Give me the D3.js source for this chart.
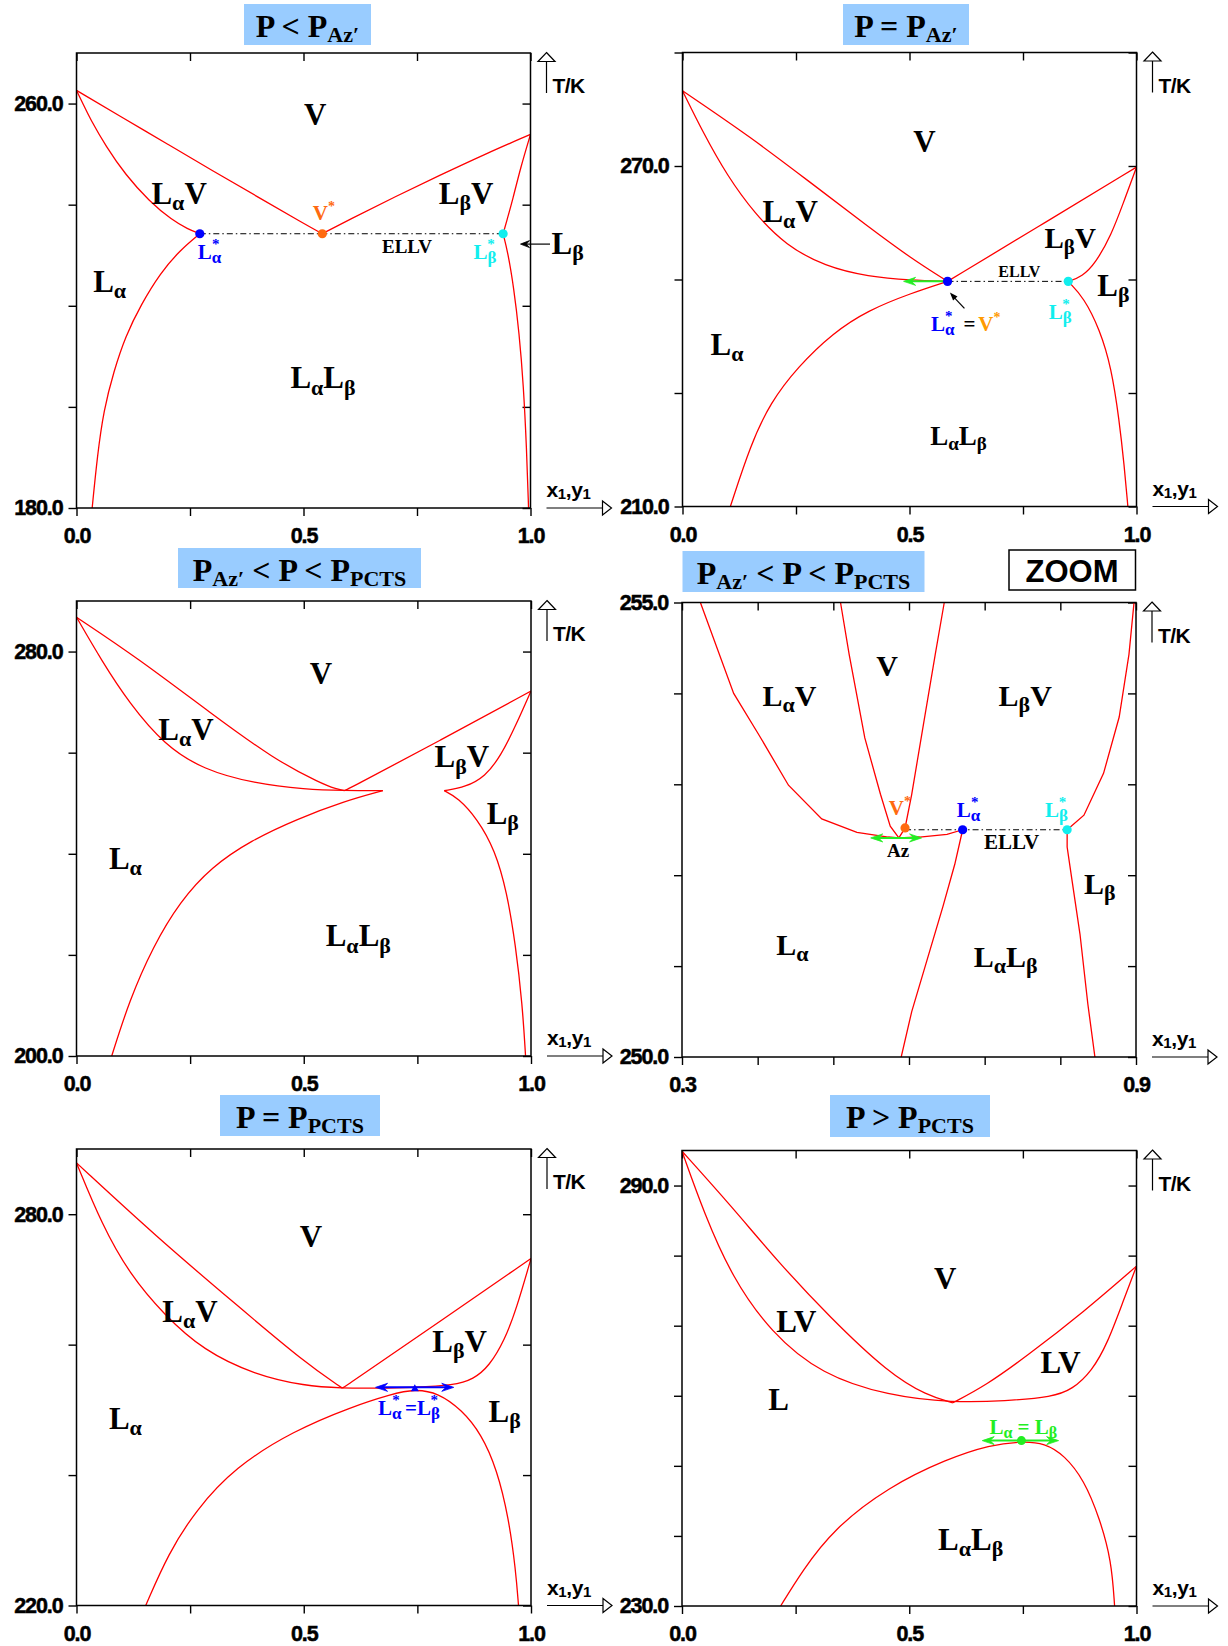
<!DOCTYPE html>
<html><head><meta charset="utf-8">
<script src="https://cdn.jsdelivr.net/npm/d3@7"></script>
<style>body{margin:0;background:#fff}svg{display:block}text{white-space:pre}</style>
</head><body>
<svg id="c" width="1228" height="1646"></svg>
<script>
// ---------------- DATA ----------------
const titles = ["P < P_{Az′}", "P = P_{Az′}", "P_{Az′} < P < P_{PCTS}", "P_{Az′} < P < P_{PCTS}", "P = P_{PCTS}", "P > P_{PCTS}"];
const xTicksMain = [0, 0.25, 0.5, 0.75, 1];
const xLabelsMain = [0, 0.5, 1];
const xTicksZoom = [0.3, 0.4, 0.5, 0.6, 0.7, 0.8, 0.9];
const xLabelsZoom = [0.3, 0.9];
const p1TRange = [180, 270], p1TTicks = [180, 200, 220, 240, 260], p1TLabels = [180, 260];
const p2TRange = [210, 290], p2TTicks = [210, 230, 250, 270, 290], p2TLabels = [210, 270];
const p3TRange = [200, 290], p3TTicks = [200, 220, 240, 260, 280], p3TLabels = [200, 280];
const p4TRange = [250, 255], p4TTicks = [250, 251, 252, 253, 254, 255], p4TLabels = [250, 255];
const p5TRange = [220, 290], p5TTicks = [220, 240, 260, 280], p5TLabels = [220, 280];
const p6TRange = [230, 295], p6TTicks = [230, 240, 250, 260, 270, 280, 290], p6TLabels = [230, 290];

// Panel 1: P < PAz'
const p1DewL = [[0,262.6],[0.1,257.3],[0.2,252.0],[0.3,246.7],[0.4,241.5],[0.5,236.3],[0.5414,234.25]];
const p1DewR = [[0.5414,234.25],[0.6,237.0],[0.7,241.5],[0.8,245.8],[0.9,250.0],[1,253.9]];
const p1BubL = [[0,262.6],[0.015,259.8],[0.030,257.0],[0.065,251.5],[0.108,245.9],[0.160,240.7],[0.211,236.9],[0.245,235.2],[0.2716,234.25]];
const p1BubR = [[1,253.9],[0.978,247.3],[0.961,241.05],[0.948,236.9],[0.9397,234.25]];
const p1LleL = [[0.2716,234.25],[0.228,231.0],[0.185,226.5],[0.142,220.2],[0.108,214.0],[0.082,207.0],[0.060,199.4],[0.046,190.4],[0.0345,180]];
const p1LleR = [[0.9397,234.25],[0.95,230.6],[0.963,223.7],[0.975,214.7],[0.9845,204.3],[0.9914,191.8],[0.9957,180]];
const p1Stars = [[0.2716,234.25],[0.5414,234.25],[0.9397,234.25]]; // Lα*, V*, Lβ*

// Panel 2: P = PAz'
const p2DewL = [[0,283.25],[0.15,275.1],[0.28,267.2],[0.409,259.3],[0.504,253.7],[0.5838,249.67]];
const p2BubL = [[0,283.25],[0.0466,275.7],[0.0984,268.3],[0.159,261.6],[0.228,256.0],[0.314,252.3],[0.409,250.5],[0.504,249.85],[0.5838,249.67]];
const p2DewR = [[0.5838,249.67],[0.8,260.1],[1,269.8]];
const p2BubR = [[1,269.8],[0.9706,263.4],[0.9447,257.9],[0.910,252.9],[0.880,250.5],[0.8497,249.67]];
const p2LleL = [[0.5838,249.67],[0.504,247.6],[0.409,244.6],[0.3316,240.6],[0.254,234.6],[0.1934,228.3],[0.150,220.9],[0.1054,210]];
const p2LleR = [[0.8497,249.67],[0.884,246.8],[0.919,241.2],[0.9447,234.45],[0.962,225.2],[0.973,217.2],[0.981,210]];
const p2Stars = [[0.5838,249.67],[0.8497,249.67]]; // Lα*=V*, Lβ*
const p2AzArrow = [[0.5838,249.67],[0.487,249.67]];

// Panel 3: PAz' < P < PPCTS
const p3DewL = [[0,286.8],[0.1334,278.8],[0.297,267.7],[0.4346,258.7],[0.538,253.9],[0.572,252.8],[0.5895,252.48]];
const p3DewR = [[0.5895,252.48],[0.6,252.9],[0.8,262.4],[1,272.2]];
const p3BubL = [[0,286.8],[0.056,278.1],[0.116,269.8],[0.1936,261.5],[0.2797,256.6],[0.3916,253.9],[0.503,252.75],[0.5895,252.5],[0.674,252.48]];
const p3LleL = [[0.674,252.48],[0.5895,250.4],[0.486,246.9],[0.383,242.6],[0.297,237.4],[0.228,230.6],[0.168,221.6],[0.116,210.9],[0.0775,200]];
const p3BubR = [[1,272.2],[0.968,265.65],[0.934,259.4],[0.899,255.25],[0.856,253.2],[0.809,252.48]];
const p3LleR = [[0.809,252.48],[0.839,251.1],[0.882,246.9],[0.921,240.7],[0.947,232.4],[0.966,222.0],[0.981,210.2],[0.988,200]];

// Panel 4: zoom
const p4BubL = [[0.3243,255],[0.3683,254.0],[0.4019,253.54],[0.4407,252.99],[0.4847,252.62],[0.5312,252.47],[0.5726,252.42],[0.5866,252.41],[0.614,252.42],[0.6502,252.45],[0.6709,252.5]];
const p4DewL = [[0.5095,255],[0.5209,254.43],[0.5416,253.51],[0.5623,252.89],[0.5752,252.54],[0.5866,252.41]];
const p4DewR = [[0.5866,252.41],[0.5948,252.52],[0.6036,252.89],[0.6191,253.66],[0.6347,254.43],[0.6466,255]];
const p4LleL = [[0.6709,252.5],[0.6605,252.12],[0.645,251.66],[0.6243,251.08],[0.6036,250.5],[0.5897,250]];
const p4BubR = [[0.8974,255],[0.8907,254.43],[0.8778,253.74],[0.8571,253.12],[0.8312,252.66],[0.809,252.5]];
const p4LleR = [[0.809,252.5],[0.809,252.31],[0.8157,251.93],[0.826,251.35],[0.8364,250.58],[0.8457,250]];
const p4Stars = [[0.5948,252.52],[0.6709,252.5],[0.809,252.5]]; // V*, Lα*, Lβ*
const p4AzArrow = [[0.5494,252.41],[0.6166,252.41]];

// Panel 5: P = PPCTS
const p5DewL = [[0,287.87],[0.1764,276.5],[0.3485,266.3],[0.5034,257.2],[0.585,253.33]];
const p5DewR = [[0.585,253.33],[0.6,254.0],[0.8,263.6],[1,273.2]];
const p5Bub = [[0,287.87],[0.056,278.4],[0.116,270.9],[0.1936,264.5],[0.2797,259.1],[0.3916,255.4],[0.503,253.65],[0.585,253.33],[0.658,253.33],[0.744,253.43],[0.830,253.75],[0.8735,254.7],[0.908,256.7],[0.942,260.7],[0.968,265.5],[1,273.2]];
const p5Lle = [[0.1523,220],[0.2022,228.0],[0.2625,234.6],[0.3485,241.2],[0.4776,246.8],[0.6067,250.5],[0.6928,252.4],[0.7444,253.2],[0.796,252.6],[0.8477,250.0],[0.8907,246.3],[0.925,240.9],[0.951,233.4],[0.9664,225.4],[0.9725,220]];
const p5Crit = [0.7444, 253.3];
const p5CritArrow = [[0.658,253.45],[0.830,253.45]];

// Panel 6: P > PPCTS
const p6DewL = [[0,294.9],[0.1094,287.0],[0.2127,279.0],[0.3247,271.25],[0.4539,263.25],[0.54,260.0],[0.596,259.0]];
const p6DewR = [[0.596,259.0],[0.669,261.5],[0.7554,265.5],[0.8846,272.0],[1,278.5]];
const p6Bub = [[0,294.9],[0.049,286.0],[0.1094,277.0],[0.1955,269.0],[0.3075,263.0],[0.4539,260.0],[0.596,259.0],[0.712,259.25],[0.8157,259.85],[0.8587,260.9],[0.9018,263.5],[0.9363,267.5],[0.9707,273.5],[1,278.5]];
const p6Lle = [[0.217,230],[0.2644,235],[0.3333,241],[0.4539,247],[0.5831,251],[0.6779,253],[0.7468,253.5],[0.7984,253.25],[0.8415,251.5],[0.8846,248],[0.919,242.5],[0.9449,236.5],[0.9518,230]];
const p6Crit = [0.7468, 253.6];
const p6CritArrow = [[0.6606,253.6],[0.8286,253.6]];

// Region labels [text, x, T]
const p1Regions = [["V",0.526,257.7],["L_{α}V",0.226,242.1],["L_{β}V",0.858,242.1],["L_{α}",0.073,224.7],["L_{α}L_{β}",0.543,205.7]];
const p2Regions = [["V",0.533,274.2],["L_{α}V",0.237,261.9],["L_{β}V",0.854,257.2],["L_{β}",0.949,248.9],["L_{α}",0.098,238.5],["L_{α}L_{β}",0.608,222.4]];
const p3Regions = [["V",0.538,275.7],["L_{α}V",0.241,264.6],["L_{β}V",0.848,259.1],["L_{β}",0.938,248.0],["L_{α}",0.1076,239.0],["L_{α}L_{β}",0.62,223.7]];
const p4Regions = [["V",0.571,254.3],["L_{α}V",0.442,253.97],["L_{β}V",0.7536,253.97],["L_{α}",0.4459,251.23],["L_{α}L_{β}",0.7278,251.1],["L_{β}",0.852,251.9]];
const p5Regions = [["V",0.516,276.5],["L_{α}V",0.2496,265.0],["L_{β}V",0.843,260.45],["L_{α}",0.1076,248.7],["L_{β}",0.942,249.7]];
const p6Regions = [["V",0.579,276.75],["LV",0.2515,270.5],["LV",0.833,264.75],["L",0.2127,259.5],["L_{α}L_{β}",0.635,239.5]];

// ---------------- DRAWING ----------------
const svg = d3.select("#c");
const SANS = "'Liberation Sans', Arial, Helvetica, sans-serif";
const SERIF = "'Liberation Serif', 'Times New Roman', Times, serif";
const fmt = d3.format(".1f");
const RED = "#FF0000", BLUE = "#0000FF", CYAN = "#11EEEE", ORANGE = "#FF6A10", ORANGE2 = "#FF9A00", GREEN = "#22EE22", BOXBLUE = "#99CCFF";

function rich(g, px, py, str, o) {
  const size = o.size, ss = o.sub || Math.round(size * 0.7);
  const subDy = o.subDy != null ? o.subDy : size * 0.2;
  const supDy = o.supDy != null ? o.supDy : size * 0.42;
  const t = g.append("text").attr("x", px).attr("y", py).attr("text-anchor", o.anchor || "middle")
    .attr("font-family", o.family || SERIF).attr("font-weight", "bold").attr("font-size", size)
    .attr("fill", o.color || "#000");
  if (o.ls) t.attr("letter-spacing", o.ls);
  const toks = str.match(/_\{[^}]*\}|\^\{[^}]*\}|[^_^]+/g);
  let cur = 0, prevSubW = 0;
  toks.forEach(tok => {
    let s, target, fs, dx = 0;
    if (tok.startsWith("_{")) { s = tok.slice(2, -1); target = subDy; fs = ss; }
    else if (tok.startsWith("^{")) { s = tok.slice(2, -1); target = -supDy; fs = o.supSize || ss; dx = -prevSubW; }
    else { s = tok; target = 0; fs = size; }
    const sp = t.append("tspan").attr("font-size", fs).attr("dy", target - cur).text(s);
    if (dx) sp.attr("dx", dx);
    prevSubW = tok.startsWith("_{") ? s.length * ss * 0.55 : 0;
    cur = target;
  });
  return t;
}

function head(g, tx, ty, dir, color, len, half) {
  len = len || 11; half = half || 4;
  g.append("path")
    .attr("d", `M${tx},${ty} L${tx - dir * len},${ty - half} L${tx - dir * len * 0.65},${ty} L${tx - dir * len},${ty + half} Z`)
    .attr("fill", color).attr("stroke", color).attr("stroke-width", 0.8);
}

function titleBox(x0, y0, w, h, str) {
  svg.append("rect").attr("x", x0).attr("y", y0).attr("width", w).attr("height", h).attr("fill", BOXBLUE);
  rich(svg, x0 + w / 2, y0 + 32.5, str, { size: 32, sub: 22, subDy: 5, family: SERIF });
}

function drawPanel(cfg) {
  const g = svg.append("g").attr("transform", `translate(${cfg.left},${cfg.top})`);
  const w = cfg.w, h = cfg.h;
  const x = d3.scaleLinear().domain(cfg.xDom).range([0, w]);
  const y = d3.scaleLinear().domain(cfg.yDom).range([h, 0]);
  const has = (arr, d) => arr.some(v => Math.abs(v - d) < 1e-9);
  const styleAxis = sel => {
    sel.select(".domain").remove();
    sel.selectAll("line").attr("stroke", "#000").attr("stroke-width", 1.4);
    sel.selectAll("text").attr("font-family", SANS).attr("font-weight", "bold").attr("font-size", 21.5)
      .attr("fill", "#000").attr("letter-spacing", "-1.1").attr("stroke", "#000").attr("stroke-width", 0.5);
  };
  g.append("g").attr("transform", `translate(0,${h})`)
    .call(d3.axisBottom(x).tickValues(cfg.xTicks).tickSize(8).tickSizeOuter(0).tickPadding(12)
      .tickFormat(d => has(cfg.xLab, d) ? fmt(d) : "")).call(styleAxis);
  g.append("g").call(d3.axisBottom(x).tickValues(cfg.xTicks).tickSize(8).tickSizeOuter(0).tickFormat("")).call(styleAxis);
  g.append("g").call(d3.axisLeft(y).tickValues(cfg.yTicks).tickSize(8).tickSizeOuter(0).tickPadding(6)
      .tickFormat(d => has(cfg.yLab, d) ? fmt(d) : "")).call(styleAxis);
  g.append("g").attr("transform", `translate(${w},0)`)
    .call(d3.axisLeft(y).tickValues(cfg.yTicks).tickSize(8).tickSizeOuter(0).tickFormat("")).call(styleAxis);

  const cid = "clip" + cfg.id;
  g.append("clipPath").attr("id", cid).append("rect").attr("width", w).attr("height", h);
  const cg = g.append("g").attr("clip-path", `url(#${cid})`);
  const line = d3.line().x(d => x(d[0])).y(d => y(d[1]))
    .curve(cfg.linear ? d3.curveLinear : d3.curveBasis);
  cfg.curves.forEach(c => cg.append("path").attr("d", line(c)).attr("fill", "none")
    .attr("stroke", RED).attr("stroke-width", 1.3));

  g.append("rect").attr("width", w).attr("height", h).attr("fill", "none").attr("stroke", "#000").attr("stroke-width", 1.5);

  // T/K arrow
  g.append("line").attr("x1", w + 16).attr("x2", w + 16).attr("y1", 8.5).attr("y2", 40).attr("stroke", "#000").attr("stroke-width", 1.2);
  g.append("path").attr("d", `M${w + 16},-0.5 L${w + 24.5},8.5 L${w + 7.5},8.5 Z`).attr("fill", "#fff").attr("stroke", "#000").attr("stroke-width", 1.2);
  g.append("text").attr("x", w + 22).attr("y", 40).attr("font-family", SANS).attr("font-weight", "bold")
    .attr("font-size", 21).attr("letter-spacing", "-0.6").text("T/K");
  // x1,y1 arrow
  g.append("line").attr("x1", w + 16).attr("x2", w + 72).attr("y1", h).attr("y2", h).attr("stroke", "#000").attr("stroke-width", 1.2);
  g.append("path").attr("d", `M${w + 72},${h - 7} L${w + 81},${h} L${w + 72},${h + 7} Z`).attr("fill", "#fff").attr("stroke", "#000").attr("stroke-width", 1.2);
  rich(g, w + 16, h - 11, "x_{1},y_{1}", { size: 21, sub: 15, subDy: 2, family: SANS, anchor: "start", ls: "-0.4" });

  // region labels
  cfg.regions.forEach(r => {
    const sz = r[3] || 31;
    rich(g, x(r[1]), y(r[2]) + sz * 0.33, r[0], { size: sz, sub: Math.round(sz * 0.72), subDy: sz * 0.2 });
  });
  return { g, x, y };
}

function dot(g, px, py, color, r) {
  g.append("circle").attr("cx", px).attr("cy", py).attr("r", r || 4.6).attr("fill", color);
}
function dashLine(g, x1, x2, py) {
  g.append("line").attr("x1", x1).attr("x2", x2).attr("y1", py).attr("y2", py)
    .attr("stroke", "#000").attr("stroke-width", 1).attr("stroke-dasharray", "6,3,1.5,3");
}

// ---- Titles
titleBox(244, 4, 127, 41, titles[0]);
titleBox(843, 4, 126, 41, titles[1]);
titleBox(178, 548, 243, 40, titles[2]);
titleBox(682.5, 551, 242, 41, titles[3]);
titleBox(220, 1095, 160, 41, titles[4]);
titleBox(830, 1095, 160, 42, titles[5]);
svg.append("rect").attr("x", 1009).attr("y", 550).attr("width", 126.5).attr("height", 40).attr("fill", "#fff").attr("stroke", "#000").attr("stroke-width", 1.5);
svg.append("text").attr("x", 1072).attr("y", 581.5).attr("text-anchor", "middle").attr("font-family", SANS)
  .attr("font-weight", "bold").attr("font-size", 31).text("ZOOM");

// ---- Panel 1
{
  const P = drawPanel({ id: 1, left: 76.5, top: 53, w: 454, h: 455, xDom: [0, 1], yDom: p1TRange,
    xTicks: xTicksMain, xLab: xLabelsMain, yTicks: p1TTicks, yLab: p1TLabels,
    curves: [p1DewL, p1DewR, p1BubL, p1BubR, p1LleL, p1LleR], regions: p1Regions });
  const { g, x, y } = P;
  dashLine(g, x(p1Stars[0][0]), x(p1Stars[2][0]), y(p1Stars[0][1]));
  dot(g, x(p1Stars[0][0]), y(p1Stars[0][1]), BLUE);
  dot(g, x(p1Stars[1][0]), y(p1Stars[1][1]), ORANGE);
  dot(g, x(p1Stars[2][0]), y(p1Stars[2][1]), CYAN);
  rich(g, x(0.545), y(238.4) + 7, "V^{*}", { size: 21, sub: 14, supDy: 9, color: ORANGE });
  rich(g, x(0.293), y(230.6) + 7, "L_{α}^{*}", { size: 21, sub: 17, subDy: 4, supDy: 10, supSize: 15, color: BLUE });
  rich(g, x(0.90), y(230.6) + 7, "L_{β}^{*}", { size: 21, sub: 17, subDy: 4, supDy: 10, supSize: 15, color: CYAN });
  rich(g, x(0.728), y(231.7) + 6.5, "ELLV", { size: 19 });
  // outside Lβ pointer
  const ay = y(232.2);
  g.append("line").attr("x1", x(1.043)).attr("x2", x(0.982)).attr("y1", ay).attr("y2", ay).attr("stroke", "#000").attr("stroke-width", 1.2);
  head(g, x(0.978), ay, -1, "#000", 9, 3.5);
  rich(g, x(1.082), ay + 10, "L_{β}", { size: 31, sub: 22, subDy: 6 });
}

// ---- Panel 2
{
  const P = drawPanel({ id: 2, left: 682.5, top: 52.5, w: 454, h: 454, xDom: [0, 1], yDom: p2TRange,
    xTicks: xTicksMain, xLab: xLabelsMain, yTicks: p2TTicks, yLab: p2TLabels,
    curves: [p2DewL, p2BubL, p2DewR, p2BubR, p2LleL, p2LleR],
    regions: p2Regions.map((r, i) => i === 5 ? r.concat([27]) : (i === 2 ? r.concat([29]) : r)) });
  const { g, x, y } = P;
  dashLine(g, x(p2Stars[0][0]), x(p2Stars[1][0]), y(p2Stars[0][1]));
  const gy = y(p2AzArrow[0][1]);
  g.append("line").attr("x1", x(p2AzArrow[0][0])).attr("x2", x(p2AzArrow[1][0]) + 4).attr("y1", gy).attr("y2", gy).attr("stroke", GREEN).attr("stroke-width", 2);
  head(g, x(p2AzArrow[1][0]), gy, -1, GREEN, 12, 4);
  dot(g, x(p2Stars[0][0]), y(p2Stars[0][1]), BLUE);
  dot(g, x(p2Stars[1][0]), y(p2Stars[1][1]), CYAN);
  rich(g, x(0.742), y(251.4) + 5.5, "ELLV", { size: 16 });
  // pointer
  g.append("line").attr("x1", x(0.621)).attr("y1", y(244.9)).attr("x2", x(0.593)).attr("y2", y(247.3)).attr("stroke", "#000").attr("stroke-width", 1.2);
  {
    const ax = x(0.589), ayy = y(247.7), ang = Math.atan2(y(244.9) - ayy, x(0.621) - ax);
    const l = 8, hw = 3;
    const bx = ax + l * Math.cos(ang), by = ayy + l * Math.sin(ang);
    g.append("path").attr("d", `M${ax},${ayy} L${bx - hw * Math.sin(ang)},${by + hw * Math.cos(ang)} L${bx + hw * Math.sin(ang)},${by - hw * Math.cos(ang)} Z`).attr("fill", "#000");
  }
  rich(g, x(0.573), y(242.15) + 7, "L_{α}^{*}", { size: 21, sub: 17, subDy: 4, supDy: 10, supSize: 15, color: BLUE });
  rich(g, x(0.632), y(242.15) + 7, "=", { size: 21 });
  rich(g, x(0.676), y(242.15) + 7, "V^{*}", { size: 21, sub: 14, supDy: 9, color: ORANGE2 });
  rich(g, x(0.832), y(244.3) + 7, "L_{β}^{*}", { size: 21, sub: 17, subDy: 4, supDy: 10, supSize: 15, color: CYAN });
}

// ---- Panel 3
{
  drawPanel({ id: 3, left: 76.5, top: 601, w: 454.5, h: 455, xDom: [0, 1], yDom: p3TRange,
    xTicks: xTicksMain, xLab: xLabelsMain, yTicks: p3TTicks, yLab: p3TLabels,
    curves: [p3DewL, p3DewR, p3BubL, p3LleL, p3BubR, p3LleR], regions: p3Regions });
}

// ---- Panel 4 (zoom)
{
  const P = drawPanel({ id: 4, left: 682, top: 602.5, w: 454, h: 454.5, xDom: [0.3, 0.9], yDom: p4TRange,
    xTicks: xTicksZoom, xLab: xLabelsZoom, yTicks: p4TTicks, yLab: p4TLabels, linear: true,
    curves: [p4BubL, p4DewL, p4DewR, p4LleL, p4BubR, p4LleR], regions: p4Regions.map(r => r.concat([30])) });
  const { g, x, y } = P;
  dashLine(g, x(p4Stars[0][0]), x(p4Stars[2][0]), y(p4Stars[1][1]));
  const gy = y(p4AzArrow[0][1]);
  g.append("line").attr("x1", x(p4AzArrow[0][0]) + 4).attr("x2", x(p4AzArrow[1][0]) - 4).attr("y1", gy).attr("y2", gy).attr("stroke", GREEN).attr("stroke-width", 2);
  head(g, x(p4AzArrow[0][0]), gy, -1, GREEN, 12, 4);
  head(g, x(p4AzArrow[1][0]), gy, 1, GREEN, 12, 4);
  dot(g, x(p4Stars[0][0]), y(p4Stars[0][1]), ORANGE);
  dot(g, x(p4Stars[1][0]), y(p4Stars[1][1]), BLUE);
  dot(g, x(p4Stars[2][0]), y(p4Stars[2][1]), CYAN);
  rich(g, x(0.5855), y(252.27) + 6.5, "Az", { size: 19 });
  rich(g, x(0.7355), y(252.36) + 7, "ELLV", { size: 21 });
  rich(g, x(0.588), y(252.74) + 7, "V^{*}", { size: 21, sub: 14, supDy: 9, color: ORANGE });
  rich(g, x(0.6786), y(252.72) + 7, "L_{α}^{*}", { size: 21, sub: 17, subDy: 4, supDy: 10, supSize: 15, color: BLUE });
  rich(g, x(0.795), y(252.72) + 7, "L_{β}^{*}", { size: 21, sub: 17, subDy: 4, supDy: 10, supSize: 15, color: CYAN });
}

// ---- Panel 5
{
  const P = drawPanel({ id: 5, left: 76.5, top: 1149, w: 454.5, h: 456.5, xDom: [0, 1], yDom: p5TRange,
    xTicks: xTicksMain, xLab: xLabelsMain, yTicks: p5TTicks, yLab: p5TLabels,
    curves: [p5DewL, p5DewR, p5Bub, p5Lle], regions: p5Regions });
  const { g, x, y } = P;
  const by = y(p5CritArrow[0][1]);
  g.append("line").attr("x1", x(p5CritArrow[0][0]) + 4).attr("x2", x(p5CritArrow[1][0]) - 4).attr("y1", by).attr("y2", by).attr("stroke", BLUE).attr("stroke-width", 2);
  head(g, x(p5CritArrow[0][0]), by, -1, BLUE, 12, 4);
  head(g, x(p5CritArrow[1][0]), by, 1, BLUE, 12, 4);
  const tx = x(p5Crit[0]), ty = y(p5Crit[1]);
  g.append("path").attr("d", `M${tx},${ty - 4} L${tx + 4},${ty + 3} L${tx - 4},${ty + 3} Z`).attr("fill", BLUE);
  rich(g, x(0.7315), y(250.27) + 7, "L_{α}^{*} =L_{β}^{*}", { size: 21, sub: 17, subDy: 4, supDy: 10, supSize: 15, color: BLUE });
}

// ---- Panel 6
{
  const P = drawPanel({ id: 6, left: 682, top: 1150.5, w: 454.5, h: 455.5, xDom: [0, 1], yDom: p6TRange,
    xTicks: xTicksMain, xLab: xLabelsMain, yTicks: p6TTicks, yLab: p6TLabels,
    curves: [p6DewL, p6DewR, p6Bub, p6Lle], regions: p6Regions });
  const { g, x, y } = P;
  const gy = y(p6CritArrow[0][1]);
  g.append("line").attr("x1", x(p6CritArrow[0][0]) + 4).attr("x2", x(p6CritArrow[1][0]) - 4).attr("y1", gy).attr("y2", gy).attr("stroke", GREEN).attr("stroke-width", 2);
  head(g, x(p6CritArrow[0][0]), gy, -1, GREEN, 12, 4);
  head(g, x(p6CritArrow[1][0]), gy, 1, GREEN, 12, 4);
  dot(g, x(p6Crit[0]), y(p6Crit[1]), GREEN, 4.5);
  rich(g, x(0.751), y(255.5) + 6.5, "L_{α} = L_{β}", { size: 21, sub: 16, subDy: 4, color: GREEN });
}
</script>
</body></html>
